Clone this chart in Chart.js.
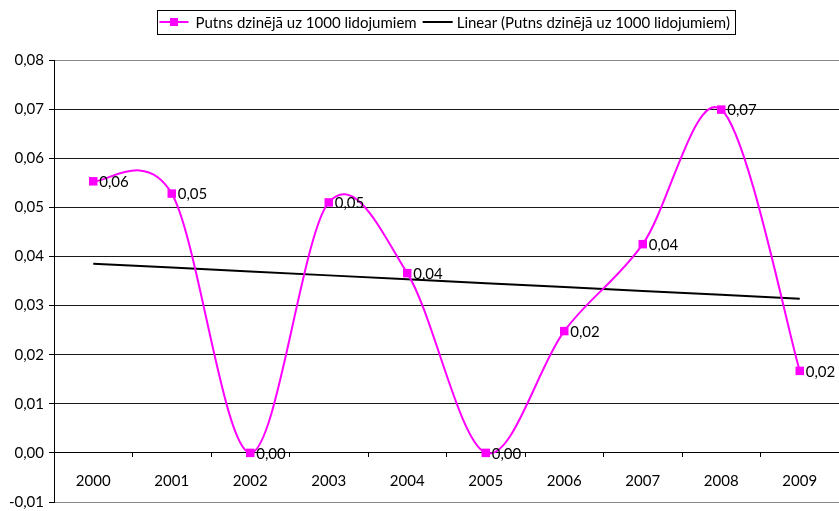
<!DOCTYPE html>
<html>
<head>
<meta charset="utf-8">
<script src="https://cdn.jsdelivr.net/npm/chart.js@4/dist/chart.umd.min.js"></script>
<style>
  html, body { margin: 0; padding: 0; background: #fff; }
  #wrap { width: 839px; height: 511px; position: relative; }
</style>
</head>
<body>
<div id="wrap"><canvas id="c" width="839" height="511"></canvas></div>
<script>
// Bird strikes per 1000 flights, by year
const years = ['2000', '2001', '2002', '2003', '2004', '2005', '2006', '2007', '2008', '2009'];
const strikeRate = [0.0553, 0.0528, 0.0, 0.0510, 0.0366, 0.0, 0.0248, 0.0425, 0.0699, 0.0167];
const seriesName = 'Putns dzinējā uz 1000 lidojumiem';
const trendName = 'Linear (Putns dzinējā uz 1000 lidojumiem)';
const yMin = -0.01, yMax = 0.08, yStep = 0.01;

const FAMILY = 'Lato, "Open Sans", sans-serif';
const SIZE = 15;
const FONT = SIZE + 'px ' + FAMILY;
const MAGENTA = '#FF00FF';

// Least-squares linear trend over the year index
function linearTrend(vals) {
  const n = vals.length;
  const mx = (n - 1) / 2;
  const my = vals.reduce((a, b) => a + b, 0) / n;
  let sxy = 0, sxx = 0;
  vals.forEach((v, i) => { sxy += (i - mx) * (v - my); sxx += (i - mx) * (i - mx); });
  const slope = sxy / sxx;
  return vals.map((_, i) => my + slope * (i - mx));
}
const trendValues = linearTrend(strikeRate);

const fmt = v => v.toFixed(2).replace('.', ',');

// Spreadsheet-style smoothing: Catmull-Rom tangents (1/6 of neighbour span)
const smoothCurve = {
  id: 'smoothCurve',
  beforeDatasetDraw(chart, args) {
    if (args.index !== 0) return;
    const meta = args.meta;
    const line = meta.dataset;
    const pts = meta.data;
    if (line && line.updateControlPoints) line.updateControlPoints(chart.chartArea, 'x');
    pts.forEach((p, i) => {
      const prev = pts[i - 1] || p;
      const next = pts[i + 1] || p;
      const dx = (next.x - prev.x) / 6;
      const dy = (next.y - prev.y) / 6;
      p.cp1x = p.x - dx; p.cp1y = p.y - dy;
      p.cp2x = p.x + dx; p.cp2y = p.y + dy;
    });
    if (line) line._path = undefined;
  }
};

// Value labels to the right of each marker
const valueLabels = {
  id: 'valueLabels',
  afterDatasetsDraw(chart) {
    const meta = chart.getDatasetMeta(0);
    const ctx = chart.ctx;
    ctx.save();
    ctx.font = FONT;
    ctx.fillStyle = '#000';
    ctx.textAlign = 'left';
    ctx.textBaseline = 'middle';
    meta.data.forEach((p, i) => {
      ctx.fillText(fmt(strikeRate[i]), p.x + 6, p.y + 1);
    });
    ctx.restore();
  }
};

// Boxed legend centred over the plot area
const boxedLegend = {
  id: 'boxedLegend',
  afterDraw(chart) {
    const ctx = chart.ctx;
    const area = chart.chartArea;
    ctx.save();
    ctx.font = FONT;
    const padL = 2, sym1 = 29, gap1 = 7, itemGap = 6, sym2 = 30, gap2 = 4, padR = 6;
    const w1 = ctx.measureText(seriesName).width;
    const w2 = ctx.measureText(trendName).width;
    const total = padL + sym1 + gap1 + w1 + itemGap + sym2 + gap2 + w2 + padR;
    const cx = (area.left + area.right) / 2;
    const left = Math.round(cx - total / 2) + 0.5;
    const top = 10.5, h = 24, cy = 22;
    ctx.strokeStyle = '#000';
    ctx.lineWidth = 1;
    ctx.strokeRect(left, top, Math.round(total), h);

    let x = left + padL;
    ctx.strokeStyle = MAGENTA;
    ctx.lineWidth = 2;
    ctx.beginPath(); ctx.moveTo(x, cy); ctx.lineTo(x + sym1, cy); ctx.stroke();
    ctx.fillStyle = MAGENTA;
    ctx.fillRect(x + sym1 / 2 - 4, cy - 4, 8, 8);
    x += sym1 + gap1;
    ctx.fillStyle = '#000';
    ctx.textBaseline = 'middle';
    ctx.fillText(seriesName, x, cy + 1);
    x += w1 + itemGap;
    ctx.strokeStyle = '#000';
    ctx.beginPath(); ctx.moveTo(x, cy); ctx.lineTo(x + sym2, cy); ctx.stroke();
    x += sym2 + gap2;
    ctx.fillText(trendName, x, cy + 1);
    ctx.restore();
  }
};

new Chart(document.getElementById('c'), {
  type: 'line',
  data: {
    labels: years,
    datasets: [
      {
        label: seriesName,
        data: strikeRate,
        borderColor: MAGENTA,
        backgroundColor: MAGENTA,
        borderWidth: 2,
        tension: 0.4,
        pointStyle: 'rect',
        pointRadius: 6,
        pointBorderWidth: 0,
        pointBackgroundColor: MAGENTA,
        fill: false
      },
      {
        label: trendName,
        data: trendValues,
        borderColor: '#000',
        borderWidth: 2,
        tension: 0,
        pointRadius: 0,
        fill: false
      }
    ]
  },
  options: {
    responsive: false,
    animation: false,
    layout: { autoPadding: false, padding: { top: 60, bottom: 9, left: 0, right: 0 } },
    plugins: {
      legend: { display: false },
      tooltip: { enabled: false }
    },
    scales: {
      x: {
        type: 'category',
        position: { y: 0 },
        offset: true,
        afterFit(scale) {
          scale.paddingLeft = 0; scale.paddingRight = 0;
          scale.paddingTop = 0; scale.paddingBottom = 0;
        },
        grid: {
          offset: true,
          drawOnChartArea: false,
          drawTicks: true,
          tickLength: 4,
          color: '#000'
        },
        border: { display: true, color: '#000', width: 1 },
        ticks: {
          font: { family: FAMILY, size: SIZE },
          color: '#000',
          padding: 15,
          maxRotation: 0,
          autoSkip: false
        }
      },
      y: {
        min: yMin,
        max: yMax,
        afterFit(scale) {
          scale.width = 54;
          scale.paddingTop = 0; scale.paddingBottom = 0;
        },
        grid: {
          color: ctx => {
            const v = ctx.tick ? Math.round(ctx.tick.value * 1000) / 1000 : null;
            return (v === yMax || v === yMin) ? '#8a8a8a' : '#1a1a1a';
          },
          tickColor: '#000',
          drawTicks: true,
          tickLength: 5
        },
        border: { display: true, color: '#000', width: 1 },
        ticks: {
          stepSize: yStep,
          font: { family: FAMILY, size: SIZE },
          color: '#000',
          padding: 5,
          callback: v => fmt(v)
        }
      }
    }
  },
  plugins: [smoothCurve, valueLabels, boxedLegend]
});
</script>
</body>
</html>
